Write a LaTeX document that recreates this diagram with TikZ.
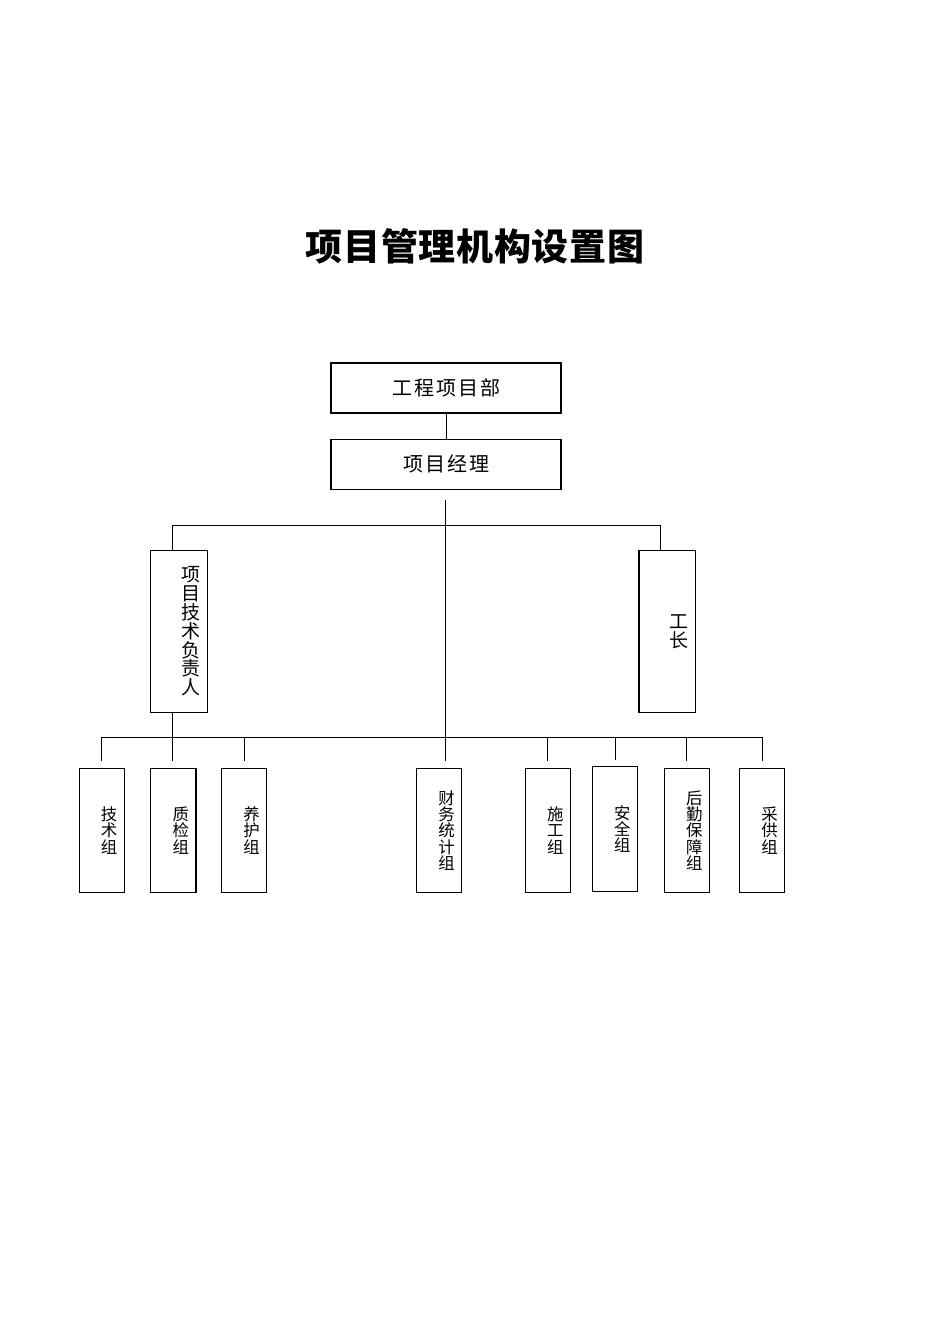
\documentclass[tikz,border=0pt]{standalone}
\usepackage{fontspec}
\setmainfont{Noto Sans CJK SC}
\newfontfamily\spacedfont[LetterSpace=10]{Noto Sans CJK SC}
\newfontfamily\titlefont[LetterSpace=2]{Noto Sans CJK SC}
\usetikzlibrary{positioning}

\begin{document}
\begin{tikzpicture}[x=0.5pt, y=-0.5pt, line width=0.5pt,
	block/.style = { rectangle, draw=black, line width=0.6pt, fill=white,
	minimum width=115pt, minimum height=25pt,
	font=\spacedfont\fontsize{10}{12}\selectfont },
	tallbox/.style = { rectangle, draw=black, line width=0.6pt,
	minimum width=28.3pt, minimum height=80.7pt, inner xsep=3.5pt,
	text width=21.3pt, align=right, font=\fontsize{9.5}{9.4}\selectfont },
	groupbox/.style = { rectangle, draw=black, line width=0.6pt,
	minimum width=22.6pt, minimum height=62.2pt, inner xsep=3.5pt,
	text width=15.6pt, align=right, font=\fontsize{8.2}{8.1}\selectfont },
	drop/.style = { shorten >=3.3pt } ]

  \useasboundingbox (0,0) rectangle (950,1344);

  \node [name=title, font=\titlefont\bfseries\fontsize{18.5}{22}\selectfont]
	at (475,246) {项目管理机构设置图};

  \node [name=dept, block] at (446,388) {工程项目部};
  \node [name=mgr, block, below=12.5pt of dept] {项目经理};

  \node [name=lead, tallbox] at (179,631.4) {项\\目\\技\\术\\负\\责\\人};
  \node [name=fore, tallbox] at (667.2,631.4) {工\\长};

  \node [name=tech, groupbox] at (101.7,830.5) {技\\术\\组};
  \node [name=qc, groupbox] at (173.3,830.5) {质\\检\\组};
  \node [name=care, groupbox] at (244.2,830.5) {养\\护\\组};
  \node [name=fin, groupbox] at (439.2,830.5) {财\\务\\统\\计\\组};
  \node [name=build, groupbox] at (547.8,830.5) {施\\工\\组};
  \node [name=safety, groupbox] at (615,828.9) {安\\全\\组};
  \node [name=logi, groupbox] at (686.8,830.5) {后\\勤\\保\\障\\组};
  \node [name=supply, groupbox] at (762.2,830.5) {采\\供\\组};

  \coordinate (trunktop) at (445.7,500);
  \coordinate (leadtap) at (172,525.7);
  \coordinate (foretap) at (660.7,525.7);
  \coordinate (bus) at (445.7,737.3);

  \draw (dept) -- (mgr);
  \draw [drop] (trunktop) -- (trunktop |- fin.north);
  \draw (leadtap) -- (foretap);
  \draw (leadtap) -- (leadtap |- lead.north);
  \draw (foretap) -- (foretap |- fore.north);
  \draw [drop] (leadtap |- lead.south) -- (leadtap |- qc.north);
  \draw (tech.north |- bus) -- (supply.north |- bus);
  \draw [drop] (tech.north |- bus) -- (tech.north);
  \draw [drop] (care.north |- bus) -- (care.north);
  \draw [drop] (build.north |- bus) -- (build.north);
  \draw [drop] (safety.north |- bus) -- (safety.north);
  \draw [drop] (logi.north |- bus) -- (logi.north);
  \draw [drop] (supply.north |- bus) -- (supply.north);
\end{tikzpicture}
\end{document}
